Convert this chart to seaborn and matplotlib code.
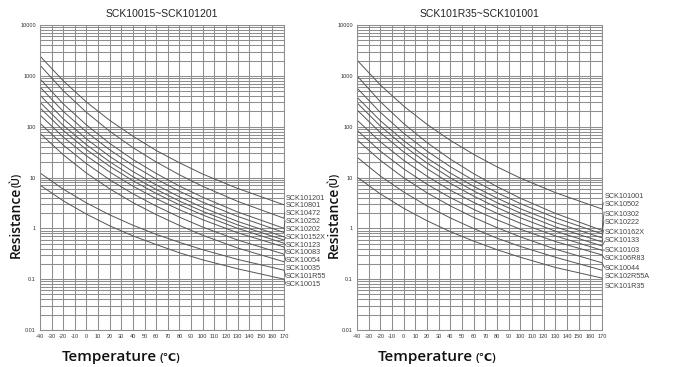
import numpy as np
import pandas as pd
import matplotlib
matplotlib.use("Agg")
import matplotlib.pyplot as plt
import seaborn as sns
from matplotlib.ticker import LogLocator, FixedLocator, NullFormatter

sns.set_theme(style="white")
plt.rcParams['font.family'] = ['Liberation Sans', 'DejaVu Sans']

# ---------------- data ----------------
temps = [-40, -20, 0, 20, 40, 60, 80, 100, 130, 170]

left_title = "SCK10015~SCK101201"
left_names = ["SCK101201", "SCK10801", "SCK10472", "SCK10252", "SCK10202", "SCK10152X",
              "SCK10123", "SCK10083", "SCK10054", "SCK10035", "SCK101R55", "SCK10015"]
left_vals = [
    [2450, 800, 305, 133, 65, 34, 19.5, 11.7, 6.1, 2.9],
    [1620, 509, 191, 81.3, 38.7, 20.2, 11.3, 6.7, 3.4, 1.58],
    [871, 281, 108, 46.8, 22.6, 12.0, 6.79, 4.09, 2.10, 1.0],
    [603, 200, 78.7, 35.0, 17.3, 9.33, 5.36, 3.27, 1.72, 0.83],
    [417, 143, 57.3, 26.0, 13.1, 7.14, 4.17, 2.57, 1.37, 0.68],
    [302, 106, 44.0, 20.4, 10.4, 5.82, 3.44, 2.16, 1.17, 0.59],
    [234, 84.3, 35.3, 16.6, 8.63, 4.85, 2.90, 1.83, 1.0, 0.51],
    [170, 62.5, 26.7, 12.8, 6.75, 3.84, 2.32, 1.48, 0.82, 0.43],
    [117, 43.5, 18.7, 9.02, 4.78, 2.74, 1.66, 1.06, 0.59, 0.31],
    [74.1, 28.0, 12.2, 5.98, 3.21, 1.86, 1.14, 0.73, 0.41, 0.22],
    [12.3, 5.90, 3.16, 1.84, 1.15, 0.76, 0.53, 0.38, 0.245, 0.15],
    [7.08, 3.48, 1.90, 1.12, 0.71, 0.48, 0.33, 0.24, 0.16, 0.10],
]

right_title = "SCK101R35~SCK101001"
right_names = ["SCK101001", "SCK10502", "SCK10302", "SCK10222", "SCK10162X", "SCK10133",
               "SCK10103", "SCK106R83", "SCK10044", "SCK102R55A", "SCK101R35"]
right_vals = [
    [2040, 662, 254, 111, 53.8, 28.5, 16.2, 9.75, 5.04, 2.40],
    [1000, 310, 115, 48.6, 23.0, 11.9, 6.61, 3.91, 1.97, 0.91],
    [575, 191, 74.6, 33.1, 16.3, 8.77, 5.04, 3.07, 1.61, 0.78],
    [380, 131, 53.0, 24.2, 12.2, 6.71, 3.93, 2.43, 1.30, 0.65],
    [295, 103, 42.0, 19.3, 9.84, 5.44, 3.20, 2.0, 1.07, 0.54],
    [214, 76.2, 31.8, 14.9, 7.67, 4.31, 2.56, 1.61, 0.88, 0.45],
    [135, 50.4, 21.8, 10.6, 5.62, 3.24, 1.97, 1.26, 0.71, 0.37],
    [85.1, 33.0, 14.8, 7.36, 4.02, 2.36, 1.47, 0.96, 0.55, 0.30],
    [55.0, 21.8, 9.89, 5.0, 2.76, 1.64, 1.03, 0.68, 0.39, 0.21],
    [25.1, 10.7, 5.18, 2.76, 1.60, 0.99, 0.64, 0.44, 0.27, 0.15],
    [10.2, 4.76, 2.48, 1.41, 0.86, 0.56, 0.38, 0.27, 0.17, 0.105],
]

x_ticks = list(range(-40, 171, 10))
y_ticks = [0.01, 0.1, 1, 10, 100, 1000, 10000]
y_tick_labels = ["0.01", "0.1", "1", "10", "100", "1000", "10000"]
x_label = "Temperature"
x_unit = "(℃)"
y_label = "Resistance"
y_unit = "(Ù)"

# ---------------- figure ----------------
W, H = 680, 367
fig = plt.figure(figsize=(W / 100, H / 100), dpi=100)
fig.patch.set_facecolor("white")

def px_rect(x0, y0, x1, y1):
    return [x0 / W, 1 - y1 / H, (x1 - x0) / W, (y1 - y0) / H]

GRID = "#8e8e8e"
CURVE = "#555555"

def draw_panel(rect, title, names, vals, lab_top, lab_bot, lab_x):
    ax = fig.add_axes(rect)
    rows = []
    for n, v in zip(names, vals):
        for t, r in zip(temps, v):
            rows.append((n, t, r))
    df = pd.DataFrame(rows, columns=["name", "T", "R"])
    for n in names:
        sub = df[df["name"] == n]
        sns.lineplot(data=sub, x="T", y="R", ax=ax, color=CURVE, linewidth=0.7,
                     estimator=None, sort=False, legend=False)
    ax.set_yscale("log")
    ax.set_xlim(-40, 170)
    ax.set_ylim(0.01, 10000)
    ax.xaxis.set_major_locator(FixedLocator(x_ticks))
    ax.yaxis.set_major_locator(FixedLocator(y_ticks))
    ax.yaxis.set_minor_locator(LogLocator(base=10, subs=np.arange(2, 10), numticks=20))
    ax.yaxis.set_minor_formatter(NullFormatter())
    ax.set_yticklabels(y_tick_labels)
    ax.set_xticklabels([str(t) for t in x_ticks])
    ax.tick_params(axis="both", which="both", length=0, labelsize=4, colors="#333333", pad=3)
    ax.grid(True, which="major", axis="both", color=GRID, linewidth=0.75)
    ax.grid(True, which="minor", axis="y", color=GRID, linewidth=0.75)
    for s in ax.spines.values():
        s.set_color(GRID)
        s.set_linewidth(0.75)
    ax.set_xlabel("")
    ax.set_ylabel("")
    ax.set_title(title, fontsize=7.5, color="#222222", pad=6)
    n = len(names)
    fr = np.linspace(lab_top, lab_bot, n)
    for name, v, f in zip(names, vals, fr):
        ax.annotate(name, xy=(temps[-1], v[-1]), xycoords="data",
                    xytext=(lab_x, f), textcoords="axes fraction",
                    fontsize=5.2, color="#444444", va="center", ha="left",
                    annotation_clip=False,
                    arrowprops=dict(arrowstyle="-", color=CURVE, lw=0.6,
                                    shrinkA=0, shrinkB=0, relpos=(0, 0.5)))
    return ax

axL = draw_panel(px_rect(40, 25, 284, 330), left_title, left_names, left_vals,
                 (330 - 198) / 305, (330 - 284.3) / 305, 1.008)
axR = draw_panel(px_rect(357, 25, 602, 330), right_title, right_names, right_vals,
                 (330 - 196) / 305, (330 - 286) / 305, 1.012)

big = ['Open Sans', 'DejaVu Sans']
for xc in (16, 334):
    fig.text(xc / W, 1 - 258 / H, y_label, rotation=90, fontsize=10, family=big,
             fontweight="semibold", ha="center", va="bottom", color="#111111")
    fig.text(xc / W, 1 - 187 / H, y_unit, rotation=90, fontsize=7.5, family=big,
             fontweight="semibold", ha="center", va="bottom", color="#111111")

for x0, xu in ((62, 159), (378, 476)):
    fig.text(x0 / W, 1 - 361 / H, x_label, fontsize=11, family=big,
             fontweight="semibold", ha="left", va="baseline", color="#111111")
    fig.text(xu / W, 1 - 361 / H, x_unit, fontsize=8, family=big,
             fontweight="semibold", ha="left", va="baseline", color="#111111")

fig.savefig("out.png", dpi=100, facecolor="white")
